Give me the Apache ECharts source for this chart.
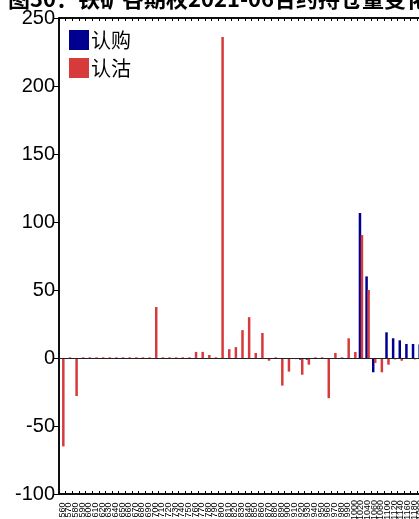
<!DOCTYPE html>
<html>
<head>
<meta charset="utf-8">
<script src="https://cdn.jsdelivr.net/npm/echarts@6/dist/echarts.min.js"></script>
<style>
  html, body { margin: 0; padding: 0; background: #fff; }
  #chart { width: 419px; height: 519px; }
</style>
</head>
<body>
<div id="chart"></div>
<script>
// strike prices (categories)
var STRIKES = [
  '560', '570', '580', '590', '600', '610', '620', '630', '640', '650',
  '660', '670', '680', '690', '700', '710', '720', '730', '740', '750',
  '760', '770', '780', '790', '800', '810', '820', '830', '840', '850',
  '860', '870', '880', '890', '900', '910', '920', '930', '940', '950',
  '960', '970', '980', '990', '1000', '1020', '1040', '1060', '1080', '1100',
  '1120', '1140', '1160', '1180', '1200'
];

// 认购 open interest change
var CALL_VALUES = [
  0, 0, 0, 0, 0, 0, 0, 0, 0, 0,
  0, 0, 0, 0, 0, 0, 0, 0, 0, 0,
  0, 0, 0, 0, 0, 0, 0, 0, 0, 0,
  0, 0, 0, 0, 0, 0, -1.2, -1.2, 0, 0,
  0, 0, 0, 0, 0, 106.6, 60, -10.5, 0, 18.9,
  14.5, 13, 10.3, 10.3, 10
];

// 认沽 open interest change
var PUT_VALUES = [
  -65, 0.5, -28, 0.5, 0.5, 0.5, 0.5, 0.5, 0.5, 0.5,
  0.5, 0.5, 0.5, 0.5, 37.5, 0.5, 0.5, 0.5, 0.5, 0.5,
  4.5, 4.5, 2.2, 0.5, 236, 6.5, 8, 20.5, 30, 3.7,
  18.4, -2, 0.5, -20.3, -10, -0.8, -12.3, -4.9, 0.5, 0.5,
  -29.5, 3.7, 0.5, 14.5, 4.4, 90.4, 50, -3.7, -10.5, -4.9,
  -1, -2, -0.5, -1, 0
];

var Y_MIN = -100;
var Y_MAX = 250;
var Y_STEP = 50;

var CALL_COLOR = '#000090';
var PUT_COLOR = '#d73a3a';

var chart = echarts.init(document.getElementById('chart'), null, { renderer: 'canvas' });

chart.setOption({
  animation: false,
  backgroundColor: '#fff',
  title: {
    text: '图30：铁矿各期权2021-06合约持仓量变化',
    left: 8,
    top: -12,
    padding: 0,
    z: 0,
    textStyle: {
      fontFamily: '"Noto Sans CJK SC", sans-serif',
      fontSize: 22,
      lineHeight: 22,
      fontWeight: 'bold',
      color: '#000'
    }
  },
  legend: {
    orient: 'vertical',
    left: 64,
    top: 25,
    icon: 'rect',
    itemWidth: 20,
    itemHeight: 20,
    itemGap: 8,
    textStyle: {
      fontFamily: '"Noto Sans CJK SC", sans-serif',
      fontSize: 20,
      color: '#000',
      padding: [0, 0, 0, -3]
    },
    data: ['认购', '认沽']
  },
  grid: [{
    left: 59, right: -5, top: 18, bottom: 25,
    show: true,
    borderColor: '#000',
    borderWidth: 1.5,
    backgroundColor: 'transparent',
    containLabel: false,
    outerBoundsMode: 'none'
  }, {
    // thin strip above the plot: its bottom axis carries the top ticks
    left: 59, right: -5, top: 0, bottom: 501,
    containLabel: false,
    outerBoundsMode: 'none'
  }],
  xAxis: [{
    type: 'category',
    gridIndex: 0,
    data: STRIKES,
    position: 'bottom',
    axisLine: { show: true, onZero: false, lineStyle: { color: '#000', width: 1.5 } },
    axisTick: { show: true, inside: true, length: 3, interval: 0, lineStyle: { color: '#000', width: 1 } },
    axisLabel: {
      show: true,
      interval: 0,
      rotate: 90,
      align: 'center',
      verticalAlign: 'middle',
      margin: 16,
      fontSize: 9,
      fontFamily: '"Liberation Sans", Arial, sans-serif',
      color: '#000'
    },
    splitLine: { show: false }
  }, {
    type: 'category',
    gridIndex: 1,
    data: STRIKES,
    position: 'bottom',
    axisLine: { show: true, onZero: false, lineStyle: { color: '#000', width: 1.5 } },
    axisTick: { show: true, inside: false, length: 3, interval: 0, lineStyle: { color: '#000', width: 1 } },
    axisLabel: { show: false },
    splitLine: { show: false }
  }],
  yAxis: [{
    type: 'value',
    gridIndex: 0,
    min: Y_MIN,
    max: Y_MAX,
    interval: Y_STEP,
    axisLine: { show: true, lineStyle: { color: '#000', width: 1.5 } },
    axisTick: { show: true, length: 5, lineStyle: { color: '#000' } },
    axisLabel: {
      margin: 4,
      fontSize: 20,
      fontFamily: '"Liberation Sans", Arial, sans-serif',
      color: '#000'
    },
    splitLine: { show: false }
  }, {
    type: 'value',
    gridIndex: 1,
    show: false,
    min: 0,
    max: 1
  }],
  series: [{
    name: '认购',
    type: 'bar',
    data: CALL_VALUES,
    barWidth: 2.5,
    barGap: '-20%',
    itemStyle: { color: CALL_COLOR }
  }, {
    name: '认沽',
    type: 'bar',
    data: PUT_VALUES,
    barWidth: 2.5,
    barGap: '-20%',
    itemStyle: { color: PUT_COLOR },
    markLine: {
      silent: true,
      symbol: ['none', 'none'],
      label: { show: false },
      lineStyle: { color: '#222', type: 'solid', width: 1 },
      data: [{ yAxis: 0 }]
    }
  }, {
    name: 'frame',
    type: 'line',
    xAxisIndex: 1,
    yAxisIndex: 1,
    data: [],
    silent: true,
    showSymbol: false
  }]
});
</script>
</body>
</html>
